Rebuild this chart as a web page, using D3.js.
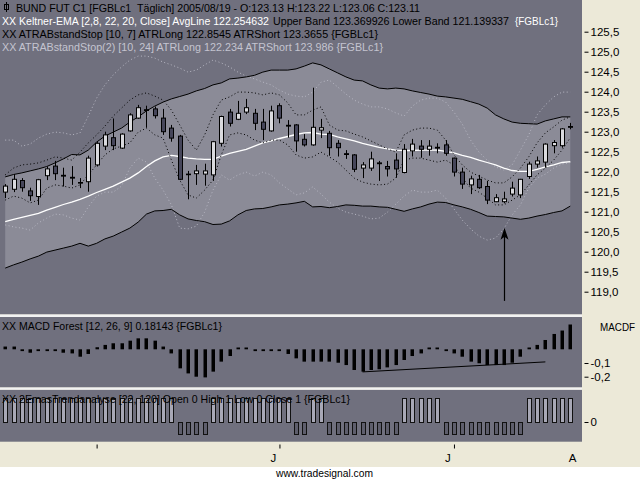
<!DOCTYPE html>
<html>
<head>
<meta charset="utf-8">
<script src="https://cdn.jsdelivr.net/npm/d3@7"></script>
<style>
  body { margin: 0; background: #fff; }
  svg { display: block; }
  text { font-family: "Liberation Sans", Arial, sans-serif; }
</style>
</head>
<body>
<div id="chart"></div>
<script>
// daily bars, index 0..68
const opens  = [121.49,121.56,121.78,121.52,121.38,121.90,122.14,121.91,121.86,121.73,121.75,122.17,122.64,122.85,122.59,123.02,123.34,123.55,123.57,123.34,123.09,122.89,121.94,121.95,121.94,121.92,122.71,123.49,123.31,123.49,123.46,123.24,123.02,123.65,123.16,123.17,122.81,122.67,123.04,122.96,122.71,122.45,122.42,122.09,122.09,122.22,122.13,122.29,121.98,122.52,122.64,122.56,122.61,122.67,122.34,121.99,121.67,121.81,121.63,121.25,121.25,121.44,121.42,121.88,122.19,122.24,122.65,122.65,123.13];
const highs  = [121.69,121.94,121.84,121.60,121.82,122.13,122.27,122.10,122.14,121.84,122.40,122.74,123.00,123.33,122.96,123.46,123.67,123.65,123.63,123.57,123.17,122.92,122.02,122.17,122.20,122.77,123.40,123.57,123.77,123.82,123.57,123.57,123.65,123.71,123.29,123.19,122.94,124.10,123.32,123.02,122.79,122.54,122.44,122.24,122.50,122.27,122.27,122.46,122.69,122.82,122.79,122.79,122.71,122.79,122.35,122.10,121.90,121.92,121.77,121.44,121.50,121.75,121.82,122.25,122.38,122.71,122.79,123.09,123.22];
const lows   = [121.34,121.49,121.50,121.27,121.17,121.79,121.79,121.63,121.67,121.59,121.50,122.13,122.54,122.54,122.57,123.00,123.32,123.10,123.33,122.92,122.75,121.79,121.31,121.67,121.65,121.77,122.63,123.13,123.29,123.44,123.04,122.79,123.00,123.21,122.85,122.50,122.63,122.65,122.84,122.40,122.38,122.32,121.99,121.84,122.02,121.77,121.88,121.85,121.96,122.38,122.35,122.40,122.46,122.40,121.88,121.57,121.44,121.57,121.19,121.24,121.21,121.38,121.34,121.82,122.10,122.10,122.46,122.60,123.06];
const closes = [121.64,121.81,121.60,121.40,121.80,122.07,121.95,121.89,121.84,121.72,122.34,122.71,122.92,122.65,122.94,123.42,123.60,123.53,123.40,123.00,122.84,121.81,121.93,122.02,122.02,122.75,123.38,123.21,123.46,123.60,123.21,123.06,123.52,123.34,123.14,122.77,122.67,123.11,123.10,122.60,122.60,122.43,122.06,122.17,122.32,122.20,122.07,122.07,122.56,122.69,122.56,122.64,122.59,122.46,121.99,121.69,121.82,121.60,121.29,121.35,121.32,121.59,121.81,122.19,122.27,122.69,122.73,123.07,123.11];

// Keltner-EMA
const avgLine   = [120.75,120.81,120.86,120.91,120.96,121.04,121.11,121.18,121.24,121.31,121.39,121.48,121.56,121.64,121.74,121.84,121.97,122.13,122.27,122.37,122.41,122.38,122.34,122.32,122.31,122.31,122.39,122.46,122.51,122.56,122.64,122.72,122.77,122.83,122.88,122.93,122.97,122.98,122.94,122.93,122.87,122.82,122.77,122.71,122.66,122.61,122.57,122.54,122.53,122.53,122.54,122.54,122.54,122.51,122.47,122.41,122.36,122.29,122.23,122.17,122.09,122.03,122.01,122.01,122.06,122.12,122.17,122.23,122.25];
const upperBand = [121.87,121.93,121.97,122.02,122.07,122.13,122.22,122.32,122.43,122.42,122.54,122.74,122.89,122.99,123.09,123.24,123.37,123.52,123.64,123.74,123.82,123.88,123.94,124.02,124.08,124.17,124.22,124.32,124.34,124.37,124.41,124.49,124.54,124.54,124.54,124.57,124.64,124.72,124.67,124.57,124.47,124.37,124.29,124.27,124.17,124.09,124.07,124.09,124.07,124.02,123.98,123.94,123.89,123.87,123.84,123.81,123.75,123.69,123.59,123.42,123.32,123.24,123.21,123.20,123.19,123.27,123.32,123.37,123.37];
const lowerBand = [119.59,119.67,119.74,119.82,119.89,119.99,120.04,120.09,120.14,120.21,120.14,120.21,120.32,120.39,120.49,120.59,120.74,120.94,121.02,121.03,121.06,120.92,120.82,120.78,120.75,120.68,120.69,120.77,120.92,121.03,121.07,121.08,121.12,121.17,121.19,121.22,121.26,121.12,121.13,121.10,121.13,121.17,121.16,121.14,121.14,121.12,121.11,121.06,121.01,121.07,121.12,121.19,121.24,121.23,121.17,121.12,121.06,120.98,120.89,120.88,120.87,120.84,120.81,120.84,120.89,120.93,120.98,121.02,121.14];

// ATRABstandStop [10, 7]
const atrShort1 = [121.92,122.09,122.17,122.19,122.22,122.29,122.37,122.34,122.29,122.49,122.72,122.92,123.14,123.39,123.59,123.79,123.92,123.97,123.89,123.79,123.54,123.17,122.79,122.54,122.92,123.42,123.79,123.87,123.99,123.99,123.97,123.92,123.97,123.92,123.72,123.42,123.42,123.54,123.62,123.17,123.04,123.02,122.94,122.87,122.77,122.67,122.57,122.49,122.92,123.04,123.09,123.09,123.04,122.79,122.42,122.17,121.99,121.89,121.79,121.72,121.72,121.87,122.09,122.37,122.72,122.97,123.12,123.29,123.37];
const atrLong1  = [121.29,121.39,121.34,121.22,121.29,121.59,121.67,121.64,121.59,121.67,121.92,122.17,122.42,122.57,122.64,122.72,122.99,123.09,122.92,122.84,122.29,121.79,121.42,121.34,121.54,121.79,122.42,122.92,122.97,122.92,122.79,122.72,122.79,122.79,122.67,122.42,122.34,122.37,122.49,122.37,122.24,122.04,121.84,121.74,121.69,121.67,121.69,121.84,122.29,122.34,122.34,122.29,122.24,122.29,122.17,121.84,121.59,121.49,121.34,121.17,121.17,121.29,121.42,121.67,121.92,122.09,122.29,122.54,122.85];

// ATRABstandStop(2) [10, 24]
const atrShort2 = [122.79,122.79,122.64,122.69,122.84,122.94,122.99,122.97,122.92,122.97,123.39,123.84,124.17,124.42,124.62,124.79,124.89,124.89,124.84,124.74,124.67,124.59,124.49,124.54,124.67,124.79,124.72,124.62,124.49,124.39,124.32,124.24,124.17,124.04,123.94,123.89,123.87,123.99,124.24,124.29,124.12,123.94,123.79,123.69,123.62,123.62,123.57,123.47,123.39,123.64,123.79,123.84,123.84,123.74,123.49,123.19,122.79,122.49,122.29,122.12,122.04,122.17,122.54,122.92,123.42,123.67,123.87,123.99,123.99];
const atrLong2  = [120.67,120.62,120.59,120.54,120.72,120.84,120.94,120.92,120.84,120.79,121.12,121.39,121.49,121.49,121.64,122.09,122.34,122.24,121.84,121.54,121.17,120.59,120.57,120.64,120.99,121.54,121.92,121.79,121.92,121.99,121.89,121.99,121.92,121.72,121.57,121.42,121.47,121.62,121.44,121.24,121.09,120.99,120.94,120.89,120.82,120.84,120.99,121.19,121.39,121.54,121.49,121.49,121.54,121.34,121.07,120.79,120.57,120.39,120.29,120.34,120.57,120.92,121.17,121.59,121.84,121.94,122.09,122.19,122.23];

// MACD Forest [12, 26, 9]
const macdForest = [0.02,0.02,-0.005,-0.025,-0.005,-0.005,-0.005,-0.025,-0.03,-0.054,-0.034,0.015,0.032,0.044,0.044,0.063,0.08,0.08,0.063,0.02,-0.03,-0.139,-0.176,-0.2,-0.205,-0.163,-0.09,-0.049,0.005,0.008,-0.005,-0.005,-0.005,-0.005,-0.034,-0.066,-0.09,-0.09,-0.09,-0.09,-0.098,-0.115,-0.151,-0.163,-0.151,-0.146,-0.132,-0.115,-0.078,-0.049,-0.03,0.005,0.005,-0.005,-0.03,-0.054,-0.09,-0.102,-0.115,-0.115,-0.115,-0.098,-0.054,0.005,0.032,0.068,0.112,0.137,0.181];
const macdTrendIdx = [43, 65];
const macdTrendVal = [-0.165, -0.092];

// 2EmasTrendanalyse: 1 = up bar, -0.5 = down bar
const trendState = [1,1,1,1,1,1,1,1,1,1,1,1,1,1,1,1,1,1,1,1,1,-0.5,-0.5,-0.5,-0.5,1,1,1,1,1,1,1,1,1,1,-0.5,-0.5,1,1,-0.5,-0.5,-0.5,-0.5,-0.5,-0.5,-0.5,-0.5,-0.5,1,1,1,1,1,-0.5,-0.5,-0.5,-0.5,-0.5,-0.5,-0.5,-0.5,-0.5,-0.5,1,1,1,1,1,1];

// axes
const priceTicks = [119, 119.5, 120, 120.5, 121, 121.5, 122, 122.5, 123, 123.5, 124, 124.5, 125, 125.5];
const macdTicks = [-0.1, -0.2];
const trendTicks = [0];
const monthTickIdx = [11, 33, 54];
const monthLabelIdx = [33, 54, 69];
const monthLabels = ["J", "J", "A"];

// annotation arrow
const arrowIdx = 60;
const arrowFrom = 118.77;
const arrowTo = 120.6;

const width = 640, height = 480;
const plotRight = 582;
const panelBg = "#70707e";
const bandFill = "#8b8b97";
const beige = "#ece9d8";

const de = d3.formatLocale({ decimal: ",", thousands: ".", grouping: [3], currency: ["", ""], minus: "-" });
const fmt1 = de.format(".1f");

const svg = d3.select("#chart").append("svg")
    .attr("width", width)
    .attr("height", height);

svg.append("rect").attr("width", width).attr("height", height).attr("fill", "#fff");
svg.append("rect").attr("width", width).attr("height", 467).attr("fill", beige);

const x = d3.scaleLinear().domain([0, 68]).range([5.2, 570.3]);
const y = d3.scaleLinear().domain([119, 125.5]).range([291.7, 31.7]);
const yMacd = d3.scaleLinear().domain([0, -0.2]).range([349.3, 376.7]);
const yTrend = d3.scaleLinear().domain([0, 1]).range([422, 398]);

// panels
svg.append("rect").attr("x", 0).attr("y", 0).attr("width", plotRight).attr("height", 314.5).attr("fill", panelBg);
svg.append("rect").attr("x", 0).attr("y", 317).attr("width", plotRight).attr("height", 70.5).attr("fill", panelBg);
svg.append("rect").attr("x", 0).attr("y", 389.7).attr("width", plotRight).attr("height", 52).attr("fill", panelBg);
svg.append("rect").attr("x", 0).attr("y", 314.5).attr("width", plotRight).attr("height", 2.5).attr("fill", "#f2f2f2");
svg.append("rect").attr("x", 0).attr("y", 387.5).attr("width", plotRight).attr("height", 2.2).attr("fill", "#f2f2f2");

const main = svg.append("g");

// keltner band
const band = d3.area()
    .x((d, i) => x(i))
    .y0((d, i) => y(lowerBand[i]))
    .y1(d => y(d));

main.append("path")
    .datum(upperBand)
    .attr("d", band)
    .attr("fill", bandFill);

const priceLine = d3.line()
    .x((d, i) => x(i))
    .y(d => y(d));

// light dotted stops
[atrShort2, atrLong2].forEach(s => {
    main.append("path")
        .datum(s)
        .attr("d", priceLine)
        .attr("fill", "none")
        .attr("stroke", "#b8b8c4")
        .attr("stroke-width", 1)
        .attr("stroke-dasharray", "1,2.5");
});

[upperBand, lowerBand].forEach(s => {
    main.append("path")
        .datum(s)
        .attr("d", priceLine)
        .attr("fill", "none")
        .attr("stroke", "#000")
        .attr("stroke-width", 1);
});

main.append("path")
    .datum(avgLine)
    .attr("d", priceLine)
    .attr("fill", "none")
    .attr("stroke", "#fff")
    .attr("stroke-width", 1.3);

[atrShort1, atrLong1].forEach(s => {
    main.append("path")
        .datum(s)
        .attr("d", priceLine)
        .attr("fill", "none")
        .attr("stroke", "#000")
        .attr("stroke-width", 1)
        .attr("stroke-dasharray", "1,2.5");
});

// candles
const candles = main.selectAll("g.candle")
    .data(closes)
    .enter()
    .append("g")
    .attr("class", "candle");

candles.append("line")
    .attr("x1", (d, i) => Math.round(x(i)) + 0.5)
    .attr("x2", (d, i) => Math.round(x(i)) + 0.5)
    .attr("y1", (d, i) => y(highs[i]))
    .attr("y2", (d, i) => y(lows[i]))
    .attr("stroke", "#000")
    .attr("stroke-width", 1);

candles.append("rect")
    .attr("x", (d, i) => Math.round(x(i)) - 2 + 0.5)
    .attr("width", 4)
    .attr("y", (d, i) => Math.min(y(opens[i]), y(d)))
    .attr("height", (d, i) => Math.max(0.6, Math.abs(y(opens[i]) - y(d))))
    .attr("fill", (d, i) => d >= opens[i] ? "#dadade" : "#46465a")
    .attr("stroke", "#000")
    .attr("stroke-width", 1);

// arrow
const ax = Math.round(x(arrowIdx)) + 0.5;
main.append("line")
    .attr("x1", ax).attr("x2", ax)
    .attr("y1", y(arrowFrom)).attr("y2", y(arrowTo) + 6)
    .attr("stroke", "#000")
    .attr("stroke-width", 1.2);
main.append("path")
    .attr("d", `M${ax},${y(arrowTo)} L${ax - 4},${y(arrowTo) + 12} L${ax},${y(arrowTo) + 9} L${ax + 4},${y(arrowTo) + 12} Z`)
    .attr("fill", "#000");

// MACD forest
svg.append("g").selectAll("rect")
    .data(macdForest)
    .enter()
    .append("rect")
    .attr("x", (d, i) => Math.round(x(i)) - 1.5)
    .attr("width", 3.5)
    .attr("y", d => d >= 0 ? Math.min(yMacd(d), yMacd(0) - 1.8) : yMacd(0))
    .attr("height", d => Math.max(1.8, Math.abs(yMacd(d) - yMacd(0))))
    .attr("fill", "#000");

svg.append("line")
    .attr("x1", x(macdTrendIdx[0])).attr("y1", yMacd(macdTrendVal[0]))
    .attr("x2", x(macdTrendIdx[1])).attr("y2", yMacd(macdTrendVal[1]))
    .attr("stroke", "#000")
    .attr("stroke-width", 1);

// trend analysis bars
svg.append("g").selectAll("rect")
    .data(trendState)
    .enter()
    .append("rect")
    .attr("x", (d, i) => Math.round(x(i)) - 2 + 0.5)
    .attr("width", 4)
    .attr("y", d => Math.min(yTrend(d), yTrend(0)) + 0.5)
    .attr("height", d => Math.abs(yTrend(d) - yTrend(0)))
    .attr("fill", d => d > 0 ? "#a8a8b6" : "#5e5e6c")
    .attr("stroke", "#111")
    .attr("stroke-width", 1);

// right axes
function styleAxis(g) {
    g.select(".domain").remove();
    g.selectAll(".tick line").attr("stroke", "#000");
    g.selectAll(".tick text")
        .attr("fill", "#000")
        .style("font-size", "11.5px")
        .style("font-family", "'Liberation Sans', Arial, sans-serif");
}

svg.append("g")
    .attr("transform", `translate(584.5,0)`)
    .call(d3.axisRight(y).tickValues(priceTicks).tickSize(4).tickPadding(2).tickFormat(fmt1))
    .call(styleAxis);

svg.append("g")
    .attr("transform", `translate(584.5,0)`)
    .call(d3.axisRight(yMacd).tickValues(macdTicks).tickSize(4).tickPadding(2).tickFormat(fmt1))
    .call(styleAxis);

svg.append("g")
    .attr("transform", `translate(584.5,0)`)
    .call(d3.axisRight(yTrend).tickValues(trendTicks).tickSize(4).tickPadding(2).tickFormat(d3.format("d")))
    .call(styleAxis);

svg.append("text")
    .attr("x", 600).attr("y", 331)
    .attr("textLength", 35)
    .attr("lengthAdjust", "spacingAndGlyphs")
    .style("font-size", "11px")
    .attr("fill", "#000")
    .text("MACDF");

// bottom time axis
svg.append("g")
    .attr("transform", "translate(0,444.5)")
    .call(d3.axisBottom(x).tickValues(monthTickIdx).tickSize(4).tickFormat(""))
    .call(g => g.select(".domain").remove())
    .call(g => g.selectAll(".tick line").attr("stroke", "#000"));

svg.append("g").selectAll("text")
    .data(monthLabels)
    .enter()
    .append("text")
    .attr("x", (d, i) => x(monthLabelIdx[i]) - 6)
    .attr("y", 462)
    .attr("text-anchor", "middle")
    .style("font-size", "11.5px")
    .attr("fill", "#000")
    .text(d => d);

svg.append("text")
    .attr("x", 276).attr("y", 477)
    .attr("textLength", 97)
    .attr("lengthAdjust", "spacingAndGlyphs")
    .style("font-size", "10px")
    .attr("fill", "#000")
    .text("www.tradesignal.com");

// header texts
svg.append("rect").attr("x", 4.5).attr("y", 4.5).attr("width", 4).attr("height", 5).attr("fill", "none").attr("stroke", "#000");
svg.append("line").attr("x1", 6.5).attr("x2", 6.5).attr("y1", 2).attr("y2", 12).attr("stroke", "#000");

function label(yy, x0, len, str, color, size) {
    svg.append("text")
        .attr("x", x0).attr("y", yy)
        .attr("textLength", len)
        .attr("lengthAdjust", "spacingAndGlyphs")
        .style("font-size", (size || 11.5) + "px")
        .style("white-space", "pre")
        .attr("fill", color)
        .text(str);
}

label(11.5, 16, 404, "BUND FUT C1 [FGBLc1  Täglich] 2005/08/19 - O:123.13 H:123.22 L:123.06 C:123.11", "#000");
label(24.5, 2, 267, "XX Keltner-EMA [2,8, 22, 20, Close] AvgLine 122.254632", "#fff", 10.5);
label(24.5, 273, 236, "Upper Band 123.369926 Lower Band 121.139337", "#000", 10.5);
label(24.5, 515, 43, "{FGBLc1}", "#fff", 10.5);
label(37.5, 2, 376, "XX ATRABstandStop [10, 7] ATRLong 122.8545 ATRShort 123.3655 {FGBLc1}", "#000");
label(50.5, 2, 381, "XX ATRABstandStop(2) [10, 24] ATRLong 122.234 ATRShort 123.986 {FGBLc1}", "#c4c4d0");
label(329.5, 2, 220, "XX MACD Forest [12, 26, 9] 0.18143 {FGBLc1}", "#000");
label(402.5, 2, 348, "XX 2EmasTrendanalyse [22, 120] Open 0 High 1 Low 0 Close 1 {FGBLc1}", "#000");
</script>
</body>
</html>
